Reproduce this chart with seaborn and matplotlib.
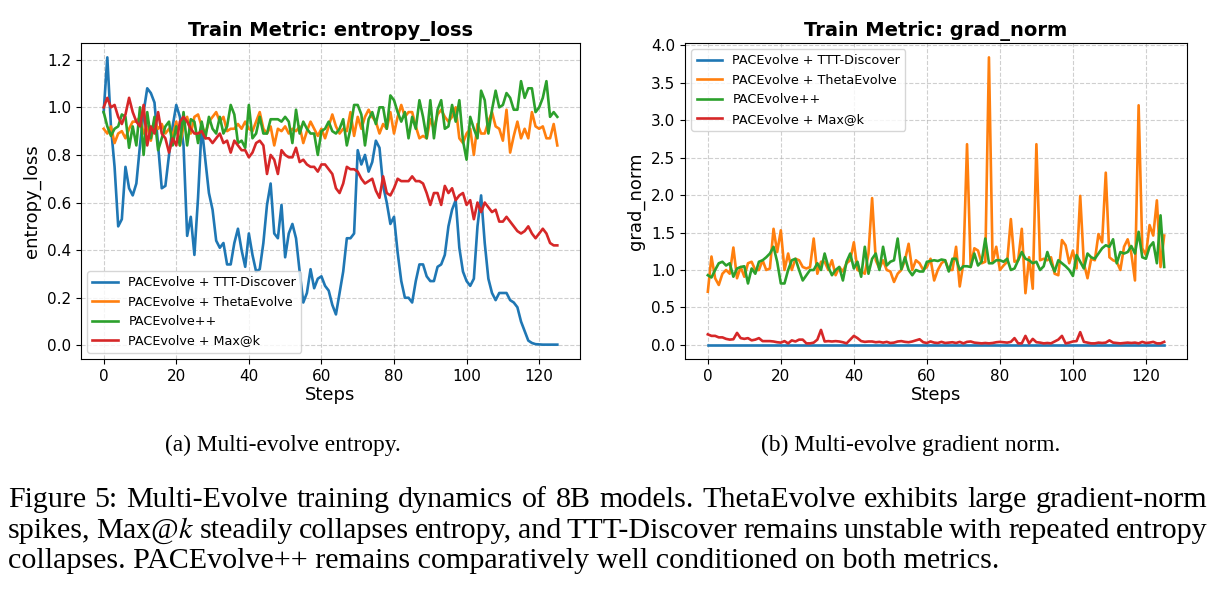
import matplotlib
matplotlib.use("Agg")
import matplotlib.pyplot as plt
import seaborn as sns

# ---------------- data ----------------
steps = list(range(126))
series_names = ["PACEvolve + TTT-Discover", "PACEvolve + ThetaEvolve", "PACEvolve++", "PACEvolve + Max@k"]
series_colors = ["#1f77b4", "#ff7f0e", "#2ca02c", "#d62728"]

entropy_ttt = [0.98, 1.21, 0.92, 0.75, 0.50, 0.53, 0.75, 0.66, 0.63, 0.68,
               0.84, 0.98, 1.08, 1.06, 1.02, 0.84, 0.66, 0.67, 0.80, 0.92,
               1.01, 0.96, 0.84, 0.46, 0.54, 0.38, 0.62, 0.92, 0.78, 0.64,
               0.57, 0.44, 0.41, 0.43, 0.34, 0.34, 0.43, 0.49, 0.40, 0.33,
               0.47, 0.38, 0.31, 0.32, 0.43, 0.59, 0.68, 0.47, 0.45, 0.59,
               0.37, 0.47, 0.51, 0.45, 0.31, 0.18, 0.22, 0.32, 0.24, 0.28,
               0.29, 0.25, 0.23, 0.17, 0.13, 0.22, 0.31, 0.45, 0.45, 0.47,
               0.82, 0.76, 0.80, 0.73, 0.77, 0.86, 0.83, 0.67, 0.60, 0.51,
               0.54, 0.39, 0.27, 0.20, 0.20, 0.18, 0.27, 0.34, 0.34, 0.29,
               0.27, 0.27, 0.33, 0.34, 0.38, 0.50, 0.57, 0.61, 0.41, 0.31,
               0.27, 0.25, 0.28, 0.50, 0.63, 0.43, 0.28, 0.22, 0.19, 0.22,
               0.22, 0.22, 0.19, 0.18, 0.16, 0.10, 0.06, 0.02, 0.01, 0.005,
               0.004, 0.003, 0.003, 0.003, 0.003, 0.003]
entropy_theta = [0.91, 0.89, 0.92, 0.85, 0.89, 0.90, 0.87, 0.91, 0.94, 0.94,
                 0.96, 0.89, 0.92, 0.86, 0.94, 0.91, 0.93, 0.89, 0.91, 0.88,
                 0.94, 0.84, 0.92, 0.96, 0.89, 0.96, 0.97, 0.92, 0.89, 0.94,
                 0.96, 0.98, 0.94, 0.96, 0.90, 0.91, 0.91, 0.93, 0.91, 0.94,
                 0.91, 0.90, 0.94, 0.98, 0.91, 0.89, 0.92, 0.84, 0.91, 0.90,
                 0.92, 0.89, 0.91, 0.90, 0.92, 0.85, 0.90, 0.94, 0.91, 0.88,
                 0.91, 0.87, 0.92, 0.97, 0.92, 0.89, 0.91, 0.90, 0.98, 0.88,
                 0.96, 0.91, 0.96, 0.99, 0.96, 0.94, 0.89, 0.93, 0.91, 0.98,
                 0.89, 0.96, 1.01, 0.96, 0.98, 0.98, 0.92, 0.87, 0.88, 0.87,
                 0.95, 0.91, 0.97, 0.99, 0.96, 0.94, 0.96, 1.00, 0.87, 0.85,
                 0.89, 0.91, 0.80, 0.93, 0.89, 0.89, 0.94, 0.98, 0.92, 0.91,
                 0.86, 0.99, 0.81, 0.88, 0.94, 0.87, 0.91, 0.87, 0.98, 0.92,
                 0.91, 0.92, 0.87, 0.87, 0.93, 0.84]
entropy_pp = [0.98, 0.92, 0.88, 0.91, 0.92, 0.97, 0.96, 0.83, 0.92, 0.84,
              1.00, 0.80, 0.98, 0.87, 0.96, 0.82, 0.87, 0.92, 0.94, 0.84,
              0.92, 0.84, 0.98, 0.84, 0.95, 0.94, 0.85, 0.94, 0.87, 0.96,
              0.91, 0.89, 0.96, 0.89, 0.92, 1.01, 0.97, 0.85, 0.86, 0.83,
              1.01, 0.87, 0.89, 0.96, 0.89, 0.89, 0.95, 0.95, 0.95, 0.94,
              0.96, 0.94, 0.85, 0.99, 0.89, 0.94, 0.91, 0.89, 0.89, 0.80,
              0.90, 0.91, 0.94, 0.90, 0.89, 0.91, 0.95, 0.84, 0.91, 1.01,
              1.01, 0.97, 0.84, 0.95, 0.98, 0.93, 1.00, 1.00, 0.91, 1.05,
              1.03, 0.98, 0.94, 0.98, 0.87, 0.96, 0.91, 1.03, 0.96, 0.87,
              1.03, 0.87, 0.99, 1.03, 0.91, 0.92, 1.01, 0.94, 1.03, 0.86,
              0.78, 0.96, 0.91, 0.87, 1.07, 1.03, 0.89, 0.99, 1.07, 1.00,
              1.01, 1.06, 1.04, 0.99, 0.99, 1.11, 1.04, 1.08, 1.08, 0.98,
              1.00, 1.04, 1.11, 0.96, 0.98, 0.96]
entropy_max = [1.00, 1.04, 1.00, 1.01, 0.96, 0.93, 0.97, 1.04, 0.98, 0.94,
               0.92, 1.01, 0.84, 0.92, 0.89, 0.98, 0.89, 0.87, 0.81, 0.87,
               0.84, 0.94, 0.96, 0.94, 0.91, 0.89, 0.89, 0.90, 0.87, 0.87,
               0.85, 0.87, 0.89, 0.85, 0.86, 0.81, 0.86, 0.84, 0.82, 0.82,
               0.79, 0.81, 0.85, 0.86, 0.84, 0.72, 0.80, 0.78, 0.72, 0.82,
               0.80, 0.79, 0.79, 0.83, 0.77, 0.78, 0.76, 0.75, 0.75, 0.73,
               0.76, 0.76, 0.74, 0.72, 0.66, 0.64, 0.68, 0.75, 0.74, 0.74,
               0.73, 0.70, 0.68, 0.69, 0.70, 0.65, 0.62, 0.71, 0.64, 0.63,
               0.66, 0.70, 0.69, 0.69, 0.69, 0.71, 0.69, 0.69, 0.68, 0.64,
               0.59, 0.64, 0.64, 0.59, 0.67, 0.64, 0.66, 0.61, 0.63, 0.64,
               0.59, 0.61, 0.53, 0.60, 0.56, 0.60, 0.58, 0.56, 0.57, 0.52,
               0.52, 0.54, 0.52, 0.50, 0.48, 0.47, 0.48, 0.50, 0.47, 0.45,
               0.47, 0.49, 0.47, 0.43, 0.42, 0.42]

grad_ttt = [0.003, 0.003, 0.003, 0.003, 0.003, 0.003, 0.003, 0.003, 0.003, 0.003,
            0.003, 0.003, 0.003, 0.003, 0.003, 0.003, 0.003, 0.003, 0.003, 0.003,
            0.003, 0.003, 0.003, 0.003, 0.003, 0.003, 0.003, 0.003, 0.003, 0.003,
            0.003, 0.003, 0.003, 0.003, 0.003, 0.003, 0.003, 0.003, 0.003, 0.003,
            0.003, 0.003, 0.003, 0.003, 0.003, 0.003, 0.003, 0.003, 0.003, 0.003,
            0.003, 0.003, 0.003, 0.003, 0.003, 0.003, 0.003, 0.003, 0.003, 0.003,
            0.003, 0.003, 0.003, 0.003, 0.003, 0.003, 0.003, 0.003, 0.003, 0.003,
            0.003, 0.003, 0.003, 0.003, 0.003, 0.003, 0.003, 0.003, 0.003, 0.003,
            0.003, 0.003, 0.003, 0.003, 0.003, 0.003, 0.003, 0.003, 0.003, 0.003,
            0.003, 0.003, 0.003, 0.003, 0.003, 0.003, 0.003, 0.003, 0.003, 0.003,
            0.003, 0.003, 0.003, 0.003, 0.003, 0.003, 0.003, 0.003, 0.003, 0.003,
            0.003, 0.003, 0.003, 0.003, 0.003, 0.003, 0.003, 0.003, 0.003, 0.003,
            0.003, 0.003, 0.003, 0.003, 0.003, 0.003]
grad_theta = [0.71, 1.18, 0.89, 0.80, 0.95, 1.00, 0.95, 1.30, 0.89, 1.04,
              0.91, 1.09, 1.11, 1.00, 1.00, 1.13, 1.00, 1.02, 1.55, 1.24,
              1.53, 1.00, 1.22, 1.00, 1.15, 1.13, 1.04, 1.02, 1.04, 1.42,
              0.95, 1.11, 1.11, 1.00, 1.13, 0.93, 1.04, 0.98, 1.09, 1.13,
              1.37, 1.00, 0.98, 0.95, 1.22, 1.96, 1.13, 1.02, 1.13, 1.00,
              0.98, 0.84, 0.95, 1.00, 1.13, 1.35, 1.00, 1.13, 1.09, 1.00,
              1.04, 1.15, 0.86, 1.00, 1.09, 1.13, 1.00, 1.00, 1.31, 0.78,
              1.09, 2.68, 1.04, 1.29, 1.26, 1.09, 1.11, 3.84, 1.11, 1.31,
              1.00, 1.06, 1.11, 1.68, 1.11, 1.13, 1.55, 0.69, 1.17, 0.75,
              2.68, 1.13, 1.15, 1.13, 1.17, 0.95, 0.93, 1.40, 1.33, 1.09,
              1.26, 1.02, 1.99, 1.09, 0.89, 1.15, 1.13, 1.48, 1.37, 2.30,
              1.17, 1.13, 1.11, 1.00, 1.31, 1.41, 1.22, 0.86, 3.20, 1.29,
              1.20, 1.60, 1.46, 1.93, 1.04, 1.46]
grad_pp = [0.93, 0.90, 1.00, 1.09, 1.11, 1.06, 1.09, 0.91, 1.02, 1.04,
           1.05, 0.82, 1.02, 0.95, 1.11, 1.13, 1.17, 1.22, 1.31, 1.11,
           0.82, 0.82, 1.00, 1.13, 1.15, 1.00, 0.86, 0.93, 1.00, 1.00,
           1.09, 1.00, 1.22, 1.04, 0.93, 1.00, 1.04, 0.86, 1.11, 1.22,
           1.02, 1.11, 0.91, 1.31, 0.95, 1.15, 1.22, 1.00, 1.31, 1.06,
           1.11, 1.13, 1.42, 1.01, 1.17, 1.00, 0.93, 1.00, 0.98, 0.98,
           1.11, 1.12, 1.13, 1.12, 1.14, 1.13, 0.98, 1.15, 1.15, 1.00,
           1.05, 1.05, 1.04, 1.22, 1.06, 1.11, 1.42, 1.09, 1.09, 1.13,
           1.13, 1.11, 1.15, 1.00, 1.02, 1.13, 1.24, 1.15, 1.13, 1.09,
           1.11, 1.00, 1.05, 1.24, 1.09, 0.98, 1.13, 1.09, 1.05, 1.00,
           0.92, 1.20, 1.11, 1.02, 1.22, 1.17, 1.15, 1.22, 1.29, 1.33,
           1.31, 1.41, 1.09, 1.24, 1.22, 1.24, 1.32, 1.22, 1.51, 1.17,
           1.15, 1.31, 1.37, 1.09, 1.73, 1.04]
grad_max = [0.14, 0.12, 0.12, 0.10, 0.10, 0.08, 0.07, 0.075, 0.16, 0.09,
            0.08, 0.09, 0.06, 0.07, 0.09, 0.05, 0.05, 0.05, 0.045, 0.035,
            0.03, 0.05, 0.02, 0.06, 0.045, 0.07, 0.07, 0.02, 0.02, 0.03,
            0.07, 0.20, 0.045, 0.05, 0.045, 0.05, 0.045, 0.035, 0.02, 0.07,
            0.12, 0.09, 0.05, 0.04, 0.045, 0.045, 0.035, 0.04, 0.03, 0.04,
            0.025, 0.03, 0.045, 0.05, 0.04, 0.035, 0.045, 0.06, 0.075, 0.035,
            0.025, 0.045, 0.03, 0.025, 0.04, 0.025, 0.03, 0.035, 0.025, 0.04,
            0.02, 0.04, 0.045, 0.03, 0.025, 0.02, 0.025, 0.02, 0.025, 0.035,
            0.04, 0.035, 0.03, 0.04, 0.09, 0.02, 0.02, 0.12, 0.02, 0.08,
            0.035, 0.03, 0.02, 0.025, 0.02, 0.045, 0.07, 0.12, 0.02, 0.03,
            0.045, 0.05, 0.17, 0.04, 0.03, 0.02, 0.02, 0.03, 0.025, 0.03,
            0.06, 0.03, 0.025, 0.02, 0.025, 0.03, 0.025, 0.03, 0.02, 0.04,
            0.025, 0.03, 0.04, 0.02, 0.02, 0.04]

entropy_series = [entropy_ttt, entropy_theta, entropy_pp, entropy_max]
grad_series = [grad_ttt, grad_theta, grad_pp, grad_max]

subcaption_a = "(a) Multi-evolve entropy."
subcaption_b = "(b) Multi-evolve gradient norm."
caption_lines = [
    "Figure 5: Multi-Evolve training dynamics of 8B models. ThetaEvolve exhibits large gradient-norm",
    "spikes, Max@$k$ steadily collapses entropy, and TTT-Discover remains unstable with repeated entropy",
    "collapses. PACEvolve++ remains comparatively well conditioned on both metrics.",
]

# ---------------- figure ----------------
plt.rcParams["font.family"] = ["DejaVu Sans"]
plt.rcParams["mathtext.fontset"] = "stix"
W, H = 1220, 594
fig = plt.figure(figsize=(W / 100, H / 100), dpi=100)
ax1 = fig.add_axes([81 / W, 1 - 359 / H, 499 / W, 316 / H])
ax2 = fig.add_axes([685 / W, 1 - 359 / H, 502 / W, 316 / H])

def draw(ax, data_list, title, ylabel, legend_loc):
    for name, color, vals in zip(series_names, series_colors, data_list):
        sns.lineplot(x=steps, y=vals, ax=ax, color=color, linewidth=1.9, label=name)
    ax.grid(True, linestyle="--", linewidth=0.8, alpha=0.6)
    ax.set_title(title, fontsize=14, fontweight="bold", pad=5)
    ax.set_xlabel("Steps", fontsize=13, labelpad=2)
    ax.set_ylabel(ylabel, fontsize=13, labelpad=4)
    ax.tick_params(labelsize=11)
    ax.legend(loc=legend_loc, fontsize=9.2, framealpha=0.8)

draw(ax1, entropy_series, "Train Metric: entropy_loss", "entropy_loss", "lower left")
draw(ax2, grad_series, "Train Metric: grad_norm", "grad_norm", "upper left")
ax1.set_xticks([0, 20, 40, 60, 80, 100, 120])
ax2.set_xticks([0, 20, 40, 60, 80, 100, 120])

serif = ["Liberation Serif", "DejaVu Serif"]
renderer = fig.canvas.get_renderer()

# caption font size fitted to the width of the last (unjustified) line
probe = fig.text(0, 0, caption_lines[2], fontsize=10, family=serif)
w10 = probe.get_window_extent(renderer).width
probe.remove()
cap_size = 10 * 992 / w10

probe = fig.text(0, 0, subcaption_a, fontsize=10, family=serif)
wa = probe.get_window_extent(renderer).width
probe.remove()
sub_size = 10 * 235 / wa

fig.text(283 / W, 1 - 445 / H, subcaption_a, fontsize=sub_size, family=serif, ha="center", va="center")
fig.text(911 / W, 1 - 445 / H, subcaption_b, fontsize=sub_size, family=serif, ha="center", va="center")

def put_line(text, y_px, justify):
    x0, x1 = 8, 1207
    if not justify:
        fig.text(x0 / W, 1 - y_px / H, text, fontsize=cap_size, family=serif, va="center", ha="left")
        return
    words = text.split(" ")
    objs = [fig.text(0, 1 - y_px / H, w, fontsize=cap_size, family=serif, va="center", ha="left") for w in words]
    widths = [o.get_window_extent(renderer).width for o in objs]
    gap = (x1 - x0 - sum(widths)) / (len(words) - 1)
    x = x0
    for o, w in zip(objs, widths):
        o.set_x(x / W)
        x += w + gap

put_line(caption_lines[0], 500, True)
put_line(caption_lines[1], 531, True)
put_line(caption_lines[2], 561, False)

fig.savefig("out.png", dpi=100)
